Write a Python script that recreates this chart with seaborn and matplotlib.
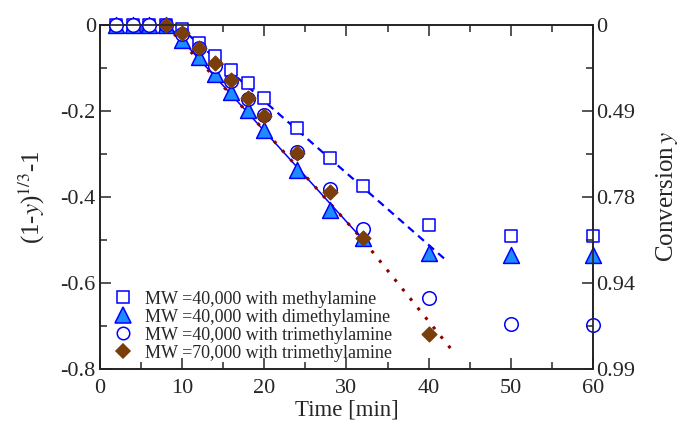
import matplotlib
matplotlib.use("Agg")
import matplotlib.pyplot as plt
import seaborn as sns
import pandas as pd
import numpy as np
from matplotlib.ticker import MultipleLocator, FixedLocator
from matplotlib.lines import Line2D

# --- data ---
t_methyl = [2, 4, 6, 8, 10, 12, 14, 16, 18, 20, 24, 28, 32, 40, 50, 60]
y_methyl = [0, 0, 0, 0, -0.010, -0.041, -0.072, -0.105, -0.136, -0.169, -0.240, -0.310, -0.374, -0.465, -0.490, -0.490]

t_dimethyl = [2, 4, 6, 8, 10, 12, 14, 16, 18, 20, 24, 28, 32, 40, 50, 60]
y_dimethyl = [0, 0, 0, 0, -0.035, -0.074, -0.114, -0.157, -0.198, -0.244, -0.337, -0.430, -0.496, -0.530, -0.535, -0.535]

t_trimethyl = [2, 4, 6, 8, 10, 12, 14, 16, 18, 20, 24, 28, 32, 40, 50, 60]
y_trimethyl = [0, 0, 0, 0, -0.022, -0.053, -0.095, -0.131, -0.171, -0.209, -0.295, -0.382, -0.474, -0.634, -0.695, -0.698]

t_tri70k = [8, 10, 12, 14, 16, 18, 20, 24, 28, 32, 40]
y_tri70k = [0, -0.019, -0.053, -0.089, -0.128, -0.170, -0.212, -0.298, -0.389, -0.496, -0.719]

# fitted lines
fit_methyl_t = [9.4, 42.0]
fit_methyl_y = [0.0, -0.545]
fit_dimethyl_t = [8.3, 32.5]
fit_dimethyl_y = [0.0, -0.510]
fit_tri70k_t = [8.0, 20.0, 32.0, 43.0]
fit_tri70k_y = [0.0, -0.245, -0.500, -0.760]

legend_labels = ["MW =40,000 with methylamine",
                 "MW =40,000 with dimethylamine",
                 "MW =40,000 with trimethylamine",
                 "MW =70,000 with trimethylamine"]

left_ticks = [0, -0.2, -0.4, -0.6, -0.8]
left_ticklabels = ["0", "-0.2", "-0.4", "-0.6", "-0.8"]
right_ticklabels = ["0", "0.49", "0.78", "0.94", "0.99"]

# --- style ---
sns.set_theme(style="ticks")
plt.rcParams['font.family'] = ['Liberation Serif', 'DejaVu Serif']
plt.rcParams['mathtext.fontset'] = 'stix'
plt.rcParams['xtick.direction'] = 'in'
plt.rcParams['ytick.direction'] = 'in'

blue = "#0000FF"
tri_fill = "#1E8CFF"
brown = "#7A3E0A"
maroon = "#8B0000"

fig = plt.figure(figsize=(6.82, 4.30), dpi=100)
ax = fig.add_axes([0.1466, 0.1419, 0.7229, 0.8000])

# fit lines
sns.lineplot(x=fit_methyl_t, y=fit_methyl_y, ax=ax, color=blue, lw=1.6,
             linestyle=(0, (3.5, 2.5)))
sns.lineplot(x=fit_dimethyl_t, y=fit_dimethyl_y, ax=ax, color=blue, lw=1.1)
sns.lineplot(x=fit_tri70k_t, y=fit_tri70k_y, ax=ax, color=maroon, lw=2.2,
             linestyle=(0, (1, 3)), sort=False)

# data points
series = [
    (t_methyl, y_methyl, "s", "white", blue, 70),
    (t_dimethyl, y_dimethyl, "^", tri_fill, blue, 130),
    (t_trimethyl, y_trimethyl, "o", "white", blue, 95),
    (t_tri70k, y_tri70k, "D", brown, brown, 55),
]
for (tt, yy, mk, fc, ec, sz) in series:
    sns.scatterplot(x=tt, y=yy, ax=ax, marker=mk, s=sz, facecolor=fc,
                    edgecolor=ec, linewidth=1.1, zorder=3, clip_on=False)

ax.set_xlim(0, 60)
ax.set_ylim(-0.8, 0)
ax.xaxis.set_major_locator(MultipleLocator(10))
ax.xaxis.set_minor_locator(MultipleLocator(5))
ax.yaxis.set_major_locator(FixedLocator(left_ticks))
ax.yaxis.set_minor_locator(MultipleLocator(0.1))
ax.set_yticklabels(left_ticklabels)
ax.tick_params(which='both', top=True, right=False, labelsize=16, width=1.1)
ax.tick_params(which='major', length=8)
ax.tick_params(which='minor', length=5)
ax.tick_params(axis='x', pad=7)
ax.tick_params(axis='y', pad=3)
for sp in ax.spines.values():
    sp.set_linewidth(1.1)
    sp.set_color("black")

ax.set_xlabel("Time [min]", fontsize=16.5, labelpad=1)
ax.set_ylabel(r"(1-$y$)$^{1/3}$-1", fontsize=18, labelpad=10)

ax2 = ax.twinx()
ax2.set_ylim(-0.8, 0)
ax2.yaxis.set_major_locator(FixedLocator(left_ticks))
ax2.yaxis.set_minor_locator(MultipleLocator(0.1))
ax2.set_yticklabels(right_ticklabels)
ax2.tick_params(which='both', labelsize=16, width=1.1, pad=2)
ax2.tick_params(which='major', length=8)
ax2.tick_params(which='minor', length=5)
ax2.set_ylabel(r"Conversion$\,y$", fontsize=18, labelpad=14)

handles = [
    Line2D([], [], ls='none', marker='s', ms=8, mfc='white', mec=blue, mew=1.1),
    Line2D([], [], ls='none', marker='^', ms=11, mfc=tri_fill, mec=blue, mew=1.1),
    Line2D([], [], ls='none', marker='o', ms=9, mfc='white', mec=blue, mew=1.1),
    Line2D([], [], ls='none', marker='D', ms=7, mfc=brown, mec=brown, mew=1.1),
]
ax.legend(handles, legend_labels, loc='lower left', bbox_to_anchor=(0.0, -0.015),
          frameon=False, fontsize=13, handletextpad=0.6, labelspacing=0.05,
          handlelength=1.2, borderaxespad=0.3)

fig.savefig("out.png", dpi=100)
